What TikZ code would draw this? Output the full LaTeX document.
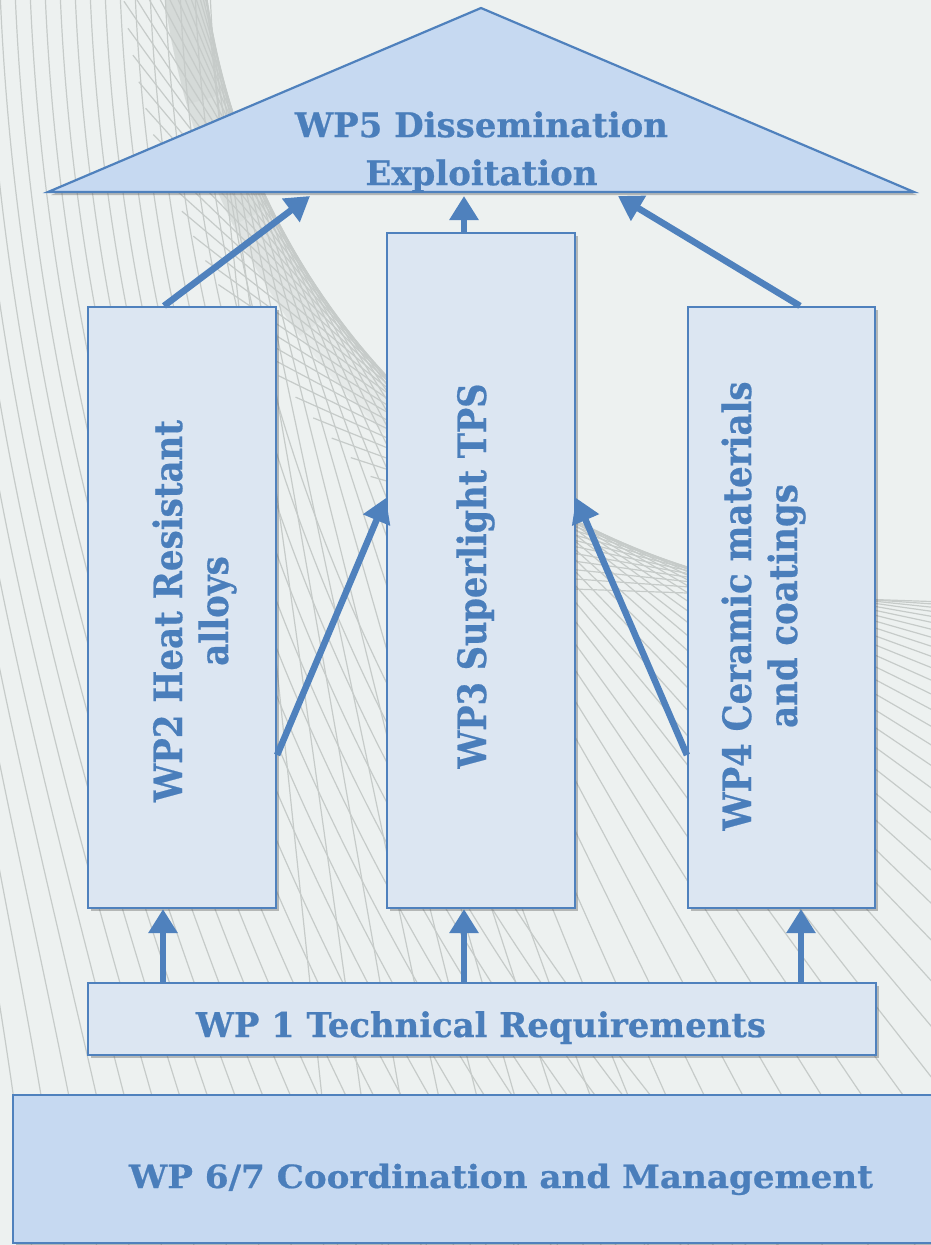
\documentclass[tikz,border=0pt]{standalone}
\usepackage{fontspec}
\usepackage{graphicx}
\setmainfont{DejaVu Serif}
\newfontfamily\wpfont{DejaVu Serif}[UprightFont=* Bold, FakeBold=0.6]
\usetikzlibrary{arrows.meta,shadows,calc}
\definecolor{bgcol}{RGB}{237,241,240}
\definecolor{linecol}{RGB}{198,203,201}
\definecolor{bandcol}{RGB}{188,194,191}
\definecolor{wpblue}{RGB}{79,129,189}
\definecolor{txtblue}{RGB}{74,126,187}
\definecolor{boxfill}{RGB}{220,230,242}
\definecolor{roof}{RGB}{198,217,241}
\tikzset{
  bgline/.style={draw=linecol, line width=1.2pt},
  bandline/.style={line width=40pt, bandcol, opacity=0.14},
  wpbox/.style={draw=wpblue, line width=2.2pt, fill=boxfill, inner sep=0pt,
    drop shadow={shadow xshift=3pt, shadow yshift=-3pt, opacity=0.35, fill=black!70}},
  roofbox/.style={wpbox, fill=roof},
  wparrow/.style={draw=wpblue, line width=6.5pt, -{Triangle[length=24pt,width=28pt]}},
  htext/.style={text=txtblue, inner sep=0pt},
  vtext/.style={text=txtblue, inner sep=0pt, rotate=90, font=\fontsize{39}{46}\selectfont\wpfont},
}
\begin{document}
\begin{tikzpicture}[x=1pt,y=-1pt]
\useasboundingbox (0,0) rectangle (931,1245);
\fill[bgcol] (0,0) rectangle (931,1245);
% decorative background lines
\begin{scope}
\clip (0,0) rectangle (931,1245);
\foreach \d in {16,26,36,46} {
  \draw[bandline] plot[domain=-5:\d, samples=30] ({900-722*cos(\x)},{-100+722*sin(\x)});
}
\foreach \i in {0,...,24} {
  \pgfmathsetmacro\sx{-150+15*\i}
  \draw[bgline] (\sx,-10) .. controls ({\sx+20},490) and ({\sx+130+5*\i},900) .. ({\sx+150+18*\i},1260);
}
\foreach \t in {6,8,...,88} {
  \pgfmathsetmacro\px{900-700*cos(\t)}
  \pgfmathsetmacro\py{-100+700*sin(\t)}
  \pgfmathsetmacro\dx{sin(\t)}
  \pgfmathsetmacro\dy{cos(\t)}
  \draw[bgline] ({\px-350*\dx},{\py-350*\dy}) -- ({\px+1600*\dx},{\py+1600*\dy});
}
\end{scope}
% roof
\draw[roofbox] (481,8) -- (914,192) -- (48,192) -- cycle;
\node[htext, font=\fontsize{34}{48}\selectfont\wpfont] (wp5) at (481.5,151.5)
  {\resizebox{373pt}{\height}{\begin{tabular}{@{}c@{}}WP5 Dissemination\\Exploitation\end{tabular}}};
\coordinate (r2) at (310,196);
\coordinate (r3) at (464,196);
\coordinate (r4) at (618,196);
% boxes
\node[wpbox, minimum width=188pt, minimum height=601pt] (wp2) at (182,607.5) {};
\node[wpbox, minimum width=188pt, minimum height=675pt] (wp3) at (481,570.5) {};
\node[wpbox, minimum width=187pt, minimum height=601pt] (wp4) at (781.5,607.5) {};
\node[wpbox, minimum width=788pt, minimum height=72pt] (wp1) at (482,1019) {};
\node[roofbox, minimum width=940pt, minimum height=148pt] (wp67) at (483,1169) {};
% labels
\node[vtext] (wp2t) at (195.8,611)
  {\resizebox{382pt}{\height}{\begin{tabular}{@{}c@{}}WP2 Heat Resistant\\alloys\end{tabular}}};
\node[vtext, anchor=base] (wp3t) at (486,576)
  {\resizebox{385pt}{\height}{WP3 Superlight TPS}};
\node[vtext] (wp4t) at (764.8,606)
  {\resizebox{449pt}{\height}{\begin{tabular}{@{}c@{}}WP4 Ceramic materials\\and coatings\end{tabular}}};
\node[htext, font=\fontsize{34}{48}\selectfont\wpfont, anchor=base] (wp1t) at (481,1037)
  {\resizebox{570pt}{\height}{WP 1 Technical Requirements}};
\node[htext, font=\fontsize{32}{44}\selectfont\wpfont, anchor=base] (wp67t) at (501,1188)
  {\resizebox{744pt}{\height}{WP 6/7 Coordination and Management}};
% arrows
\draw[wparrow] ([xshift=-18pt]wp2.north) -- (r2);
\draw[wparrow] ([xshift=-17pt]wp3.north) -- (r3);
\draw[wparrow] ([xshift=18.5pt]wp4.north) -- (r4);
\draw[wparrow] ([yshift=-147.5pt]wp2.east) -- ([yshift=72.5pt]wp3.west);
\draw[wparrow] ([yshift=-147.5pt]wp4.west) -- ([yshift=72.5pt]wp3.east);
\draw[wparrow] ($(wp2.south |- wp1.north)+(-19,0)$) -- ($(wp2.south)+(-19,0)$);
\draw[wparrow] ($(wp3.south |- wp1.north)+(-17,0)$) -- ($(wp3.south)+(-17,0)$);
\draw[wparrow] ($(wp4.south |- wp1.north)+(19.5,0)$) -- ($(wp4.south)+(19.5,0)$);
\end{tikzpicture}
\end{document}
